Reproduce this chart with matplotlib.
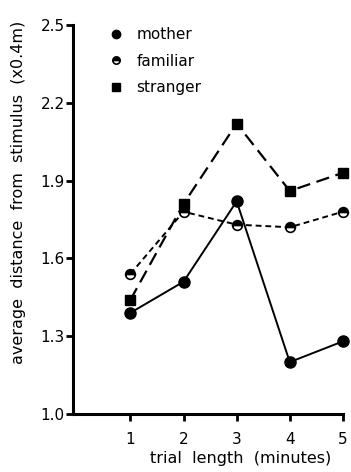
import matplotlib
matplotlib.use('Agg')
from matplotlib import pyplot as plt

plt.rcParams['font.family'] = ['DejaVu Sans']

minutes = [1, 2, 3, 4, 5]
mother = [1.39, 1.51, 1.82, 1.20, 1.28]
familiar = [1.54, 1.78, 1.73, 1.72, 1.78]
stranger = [1.44, 1.81, 2.12, 1.86, 1.93]
yticks = [1.0, 1.3, 1.6, 1.9, 2.2, 2.5]
ytick_labels = ['1.0', '1.3', '1.6', '1.9', '2.2', '2.5']

fig = plt.figure(figsize=(3.51, 4.72), dpi=100)
ax = fig.add_axes([0.208, 0.123, 0.769, 0.824])

ax.plot(minutes, mother, color='black', lw=1.4, ls='-', marker='o', ms=8,
        label='mother', clip_on=False)
ax.plot(minutes, familiar, color='black', lw=1.4, ls=(0, (3, 2)), marker='o', ms=7,
        markerfacecolor='black', fillstyle='top', markerfacecoloralt='white',
        markeredgecolor='black', markeredgewidth=1.2,
        label='familiar', clip_on=False)
ax.plot(minutes, stranger, color='black', lw=1.6, ls=(0, (6, 3)), marker='s', ms=7,
        label='stranger', clip_on=False)

ax.set_xlim(-0.08, 5.0)
ax.set_ylim(1.0, 2.5)
ax.set_xticks(minutes)
ax.set_yticks(yticks)
ax.set_yticklabels(ytick_labels)

for s in ['top', 'right']:
    ax.spines[s].set_visible(False)
for s in ['left', 'bottom']:
    ax.spines[s].set_linewidth(2.2)

ax.tick_params(axis='both', width=2, length=5, labelsize=11, direction='out')
ax.tick_params(axis='x', pad=8)
ax.tick_params(axis='y', pad=1)

ax.set_xlabel('trial  length  (minutes)', fontsize=11.5)
ax.xaxis.set_label_coords(0.62, -0.095)
ax.set_ylabel('average  distance  from  stimulus  (x0.4m)', fontsize=11.5)
ax.yaxis.set_label_coords(-0.175, 0.57)

leg = ax.legend(loc='upper left', bbox_to_anchor=(0.11, 1.03), frameon=False,
                handlelength=0, handletextpad=1.3, fontsize=11, labelspacing=0.75,
                markerscale=0.75)

plt.savefig('out.png', dpi=100)
plt.close()
